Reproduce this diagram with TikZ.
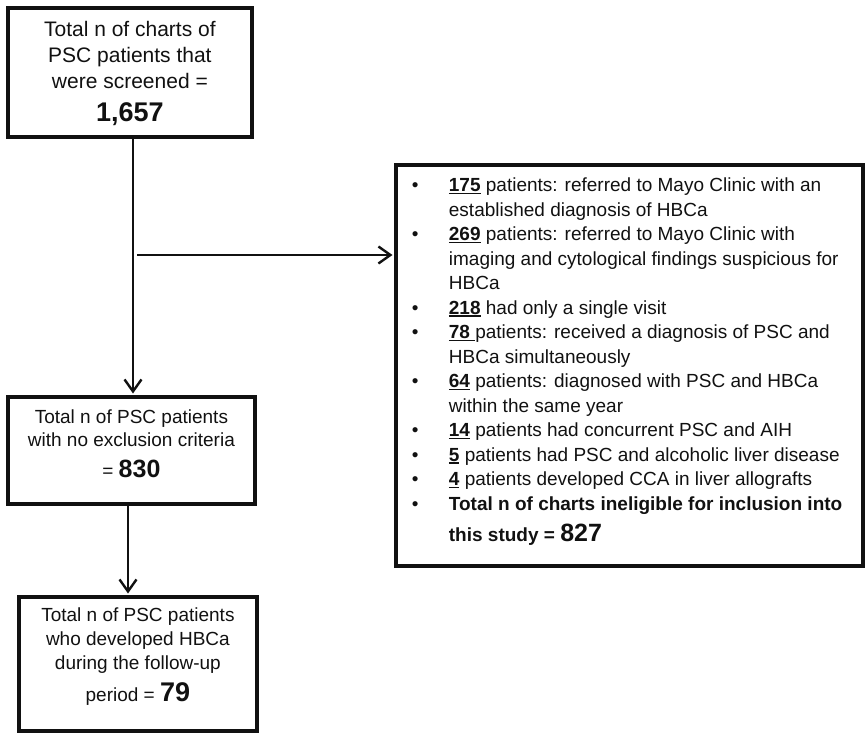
\documentclass[tikz,border=0pt]{standalone}
\usepackage{fontspec}
\setmainfont{Liberation Sans}
\usetikzlibrary{arrows.meta}
\definecolor{ink}{HTML}{111111}
\newcommand\unum[1]{{\setbox0\hbox{\textbf{#1}}\rlap{\rule[-2.8pt]{\wd0}{1.6pt}}\box0}}
\newcommand\bul{\leavevmode\llap{\makebox[37pt][l]{•}}}
\begin{document}
\begin{tikzpicture}[x=1pt,y=-1pt,
  box/.style={draw=ink, text=ink, line width=3.8pt, inner sep=0pt, anchor=north west},
  arr/.style={draw=ink, line width=2.4pt, shorten >=1.5pt, -{Straight Barb[length=12pt,width=17pt]}}]
\useasboundingbox (0,0) rectangle (867,736);

\node[box] (screened) at (6,6) {\parbox[c][129pt][t]{244pt}{\centering\fontsize{21}{26}\selectfont\vspace*{13pt}Total n of charts of\\PSC patients that\\were screened =\\[7pt]{\fontsize{27}{27}\selectfont\bfseries 1,657}}};

\node[box] (noexcl) at (6,395) {\parbox[c][107pt][t]{247pt}{\centering\fontsize{19}{23}\selectfont\vspace*{13pt}Total n of PSC patients\\with no exclusion criteria\\[7.5pt]= {\fontsize{25}{25}\selectfont\bfseries 830}}};

\node[box] (developed) at (17,595) {\parbox[c][134pt][t]{238pt}{\centering\fontsize{19}{24}\selectfont\vspace*{11pt}Total n of PSC patients\\who developed HBCa\\during the follow-up\\[8pt]period = {\fontsize{27}{27}\selectfont\bfseries 79}}};

\node[box] (excluded) at (394,163) {\parbox[c][401pt][t]{467pt}{\raggedright\fontsize{19}{24.5}\selectfont\leftskip=53pt\parindent=0pt\parskip=0pt\vspace*{13pt}%
\bul\unum{175} patients: referred to Mayo Clinic with an\\
established diagnosis of HBCa\par
\bul\unum{269} patients: referred to Mayo Clinic with\\
imaging and cytological findings suspicious for\\
HBCa\par
\bul\unum{218} had only a single visit\par
\bul\unum{78\ }patients: received a diagnosis of PSC and\\
HBCa simultaneously\par
\bul\unum{64} patients: diagnosed with PSC and HBCa\\
within the same year\par
\bul\unum{14} patients had concurrent PSC and AIH\par
\bul\unum{5} patients had PSC and alcoholic liver disease\par
\bul\unum{4} patients developed CCA in liver allografts\par
\bul\textbf{Total n of charts ineligible for inclusion into}\\[6.5pt]
\textbf{this study = }{\fontsize{25}{25}\selectfont\bfseries 827}\par}};

\coordinate (vx) at (133,0);
\coordinate (vx2) at (128,0);
\coordinate (branch) at (137,255);

\draw[arr] (screened.south -| vx) -- (noexcl.north -| vx);
\draw[arr] (branch) -- (branch -| excluded.west);
\draw[arr] (noexcl.south -| vx2) -- (developed.north -| vx2);
\end{tikzpicture}
\end{document}
